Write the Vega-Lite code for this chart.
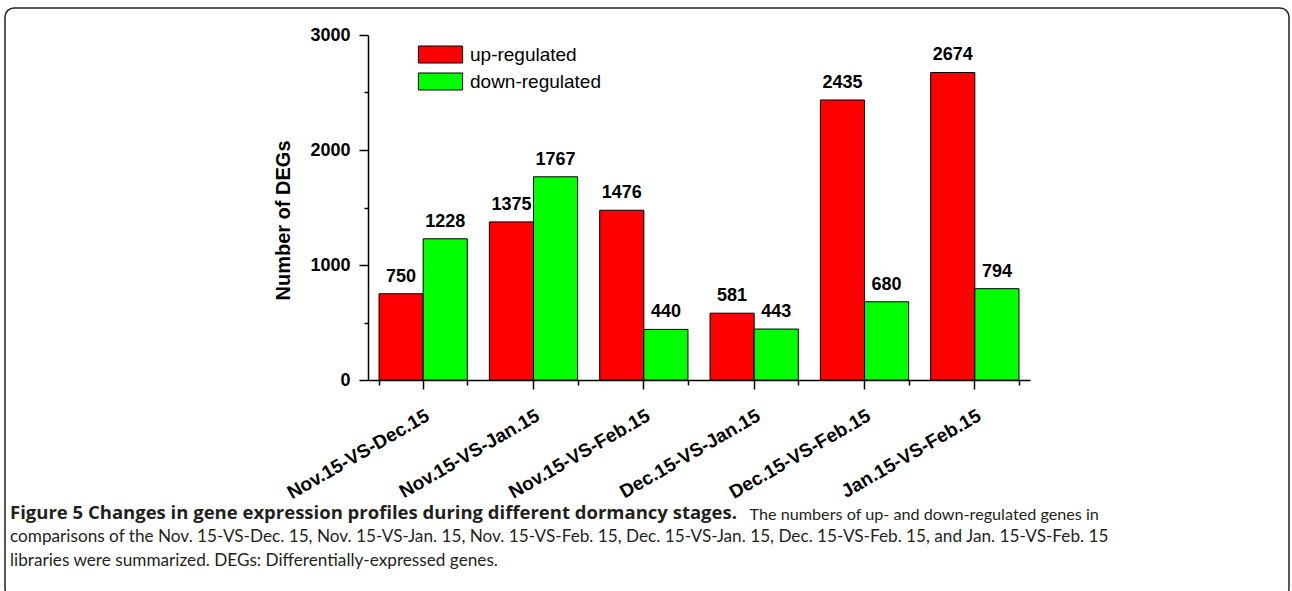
{
  "$schema": "https://vega.github.io/schema/vega-lite/v6.json",
  "autosize": {"type": "none"},
  "padding": {"left": 5, "top": 8, "right": 3, "bottom": 0},
  "width": 1284,
  "height": 590,
  "background": "white",
  "config": {
    "view": {"stroke": "#222222", "strokeWidth": 1.5, "cornerRadius": 9, "fill": "white"},
    "axis": {"labelFont": "Liberation Sans", "titleFont": "Liberation Sans", "labelColor": "black", "titleColor": "black", "domainColor": "black", "tickColor": "black", "grid": false}
  },
  "title": {
    "text": "Figure 5 Changes in gene expression profiles during different dormancy stages.",
    "subtitle": [
      "comparisons of the Nov. 15-VS-Dec. 15, Nov. 15-VS-Jan. 15, Nov. 15-VS-Feb. 15, Dec. 15-VS-Jan. 15, Dec. 15-VS-Feb. 15, and Jan. 15-VS-Feb. 15",
      "libraries were summarized. DEGs: Differentially-expressed genes."
    ],
    "orient": "bottom",
    "anchor": "start",
    "frame": "group",
    "offset": 0,
    "dx": 5,
    "dy": -94,
    "font": "Open Sans",
    "fontSize": 18.5,
    "fontWeight": "bold",
    "color": "#231f20",
    "subtitleFont": "Lato",
    "subtitleFontSize": 17.2,
    "subtitleFontWeight": "normal",
    "subtitleColor": "#231f20",
    "subtitleLineHeight": 24,
    "subtitlePadding": 5
  },
  "data": {
    "values": [
      {"comparison": "Nov.15-VS-Dec.15", "type": "up-regulated", "count": 750},
      {"comparison": "Nov.15-VS-Dec.15", "type": "down-regulated", "count": 1228},
      {"comparison": "Nov.15-VS-Jan.15", "type": "up-regulated", "count": 1375},
      {"comparison": "Nov.15-VS-Jan.15", "type": "down-regulated", "count": 1767},
      {"comparison": "Nov.15-VS-Feb.15", "type": "up-regulated", "count": 1476},
      {"comparison": "Nov.15-VS-Feb.15", "type": "down-regulated", "count": 440},
      {"comparison": "Dec.15-VS-Jan.15", "type": "up-regulated", "count": 581},
      {"comparison": "Dec.15-VS-Jan.15", "type": "down-regulated", "count": 443},
      {"comparison": "Dec.15-VS-Feb.15", "type": "up-regulated", "count": 2435},
      {"comparison": "Dec.15-VS-Feb.15", "type": "down-regulated", "count": 680},
      {"comparison": "Jan.15-VS-Feb.15", "type": "up-regulated", "count": 2674},
      {"comparison": "Jan.15-VS-Feb.15", "type": "down-regulated", "count": 794}
    ]
  },
  "encoding": {
    "x": {
      "field": "comparison",
      "type": "nominal",
      "sort": ["Nov.15-VS-Dec.15", "Nov.15-VS-Jan.15", "Nov.15-VS-Feb.15", "Dec.15-VS-Jan.15", "Dec.15-VS-Feb.15", "Jan.15-VS-Feb.15"],
      "scale": {"range": [363, 1025], "paddingInner": 0.2, "paddingOuter": 0.1}
    },
    "xOffset": {
      "field": "type",
      "type": "nominal",
      "sort": ["up-regulated", "down-regulated"],
      "scale": {"paddingInner": 0, "paddingOuter": 0}
    },
    "y": {
      "field": "count",
      "type": "quantitative",
      "scale": {"domain": [0, 3000], "range": [372, 27], "nice": false, "zero": true}
    }
  },
  "layer": [
    {
      "mark": {"type": "bar", "stroke": "black", "strokeWidth": 1, "clip": false},
      "encoding": {
        "x": {
          "field": "comparison",
          "type": "nominal",
          "sort": ["Nov.15-VS-Dec.15", "Nov.15-VS-Jan.15", "Nov.15-VS-Feb.15", "Dec.15-VS-Jan.15", "Dec.15-VS-Feb.15", "Jan.15-VS-Feb.15"],
          "axis": {
            "orient": "bottom",
            "title": "The numbers of up- and down-regulated genes in",
            "titleFont": "Lato",
            "titleFontSize": 16.2,
            "titleFontWeight": "normal",
            "titleColor": "#231f20",
            "titleX": 744,
            "titleY": 139,
            "titleAlign": "left",
            "titleAnchor": null,
            "titleBaseline": "alphabetic",
            "offset": -218,
            "labelAngle": -30,
            "labelAlign": "right",
            "labelBaseline": "top",
            "labelFontSize": 19,
            "labelFontWeight": "bold",
            "labelPadding": 17,
            "tickSize": 9,
            "tickWidth": 1.5,
            "domainWidth": 1.5
          }
        },
        "y": {
          "field": "count",
          "type": "quantitative",
          "axis": {
            "title": "Number of DEGs",
            "titleFontSize": 20,
            "titleFontWeight": "bold",
            "titleAngle": -90,
            "titleX": -85,
            "titleY": 212,
            "titleAlign": "center",
            "titleBaseline": "middle",
            "offset": -363,
            "values": [0, 500, 1000, 1500, 2000, 2500, 3000],
            "labelExpr": "datum.value % 1000 === 0 ? datum.label : ''",
            "format": "d",
            "labelFontSize": 18,
            "labelFontWeight": "bold",
            "labelPadding": 9,
            "tickSize": {"condition": {"test": "datum.value % 1000 === 0", "value": 9}, "value": 4},
            "tickWidth": 1.5,
            "domainWidth": 1.5
          }
        },
        "fill": {
          "field": "type",
          "type": "nominal",
          "sort": ["up-regulated", "down-regulated"],
          "scale": {"domain": ["up-regulated", "down-regulated"], "range": ["#FF0000", "#00FF00"]},
          "legend": {
            "title": null,
            "orient": "none",
            "legendX": 426,
            "legendY": 37,
            "padding": 0,
            "symbolType": "M-2.6,-1H2.6V1H-2.6Z",
            "symbolSize": 289,
            "symbolStrokeColor": "black",
            "symbolStrokeWidth": 1,
            "symbolOpacity": 1,
            "labelFont": "Liberation Sans",
            "labelFontSize": 19,
            "labelColor": "black",
            "labelOffset": 20,
            "rowPadding": 6
          }
        }
      }
    },
    {
      "mark": {"type": "text", "baseline": "bottom", "dy": -8, "font": "Liberation Sans", "fontSize": 18, "fontWeight": "bold", "color": "black"},
      "encoding": {
        "x": {
          "field": "comparison",
          "type": "nominal",
          "sort": ["Nov.15-VS-Dec.15", "Nov.15-VS-Jan.15", "Nov.15-VS-Feb.15", "Dec.15-VS-Jan.15", "Dec.15-VS-Feb.15", "Jan.15-VS-Feb.15"],
          "axis": {
            "orient": "top",
            "title": null,
            "offset": -372,
            "labels": false,
            "domain": false,
            "tickBand": "extent",
            "tickSize": -5,
            "tickWidth": 1.5
          }
        },
        "text": {"field": "count", "type": "quantitative"}
      }
    }
  ],
  "resolve": {"axis": {"x": "independent"}}
}
